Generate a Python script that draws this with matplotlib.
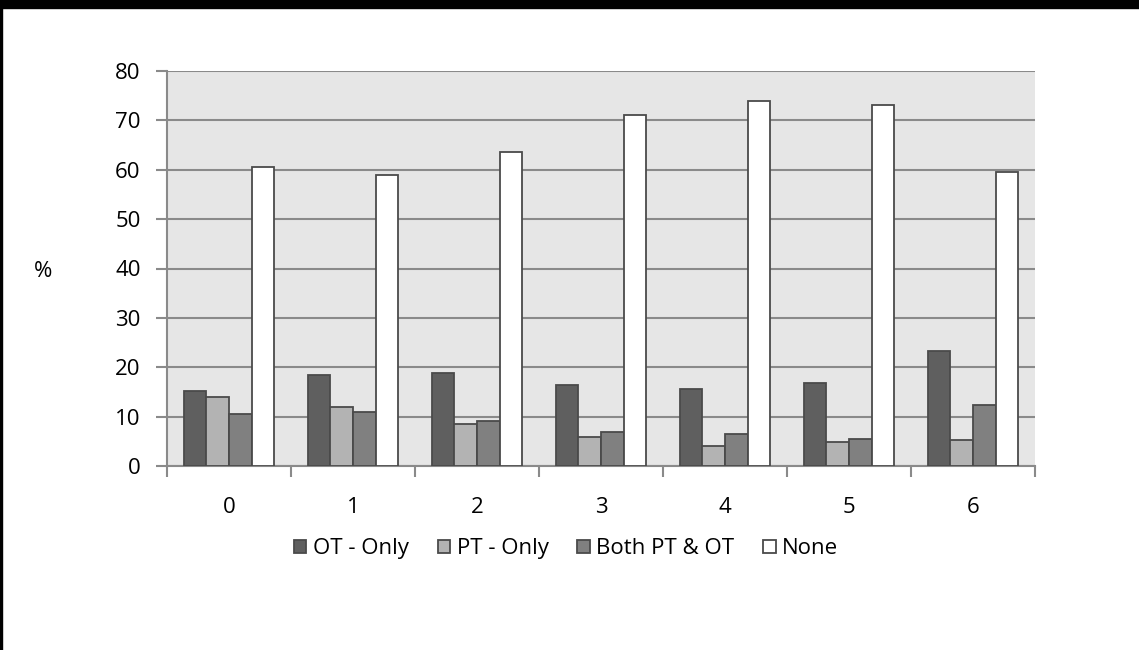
import numpy as np
import matplotlib.pyplot as plt
from matplotlib.patches import Rectangle

plt.rcParams['font.family'] = ['Open Sans', 'DejaVu Sans']

groups = ['0', '1', '2', '3', '4', '5', '6']
ot_only = [15.2, 18.5, 18.8, 16.5, 15.6, 16.9, 23.2]
pt_only = [13.9, 11.9, 8.6, 5.9, 4.0, 4.8, 5.3]
both = [10.5, 11.0, 9.2, 6.9, 6.5, 5.5, 12.4]
none = [60.6, 58.9, 63.6, 71.1, 73.9, 73.1, 59.5]

series = [('OT - Only', ot_only, '#5f5f5f'),
          ('PT - Only', pt_only, '#b3b3b3'),
          ('Both PT & OT', both, '#808080'),
          ('None', none, '#ffffff')]

fs = 16

fig = plt.figure(figsize=(11.39, 6.5), dpi=100)
# black frame along top and left edges
fig.patches.append(Rectangle((0, 1 - 8/650), 1, 8/650, transform=fig.transFigure,
                             color='black', zorder=10))
fig.patches.append(Rectangle((0, 0), 2/1139, 1, transform=fig.transFigure,
                             color='black', zorder=10))

ax = fig.add_axes([167/1139, 1 - 466/650, 868/1139, 395/650])
ax.set_facecolor('#e6e6e6')

x = np.arange(len(groups))
w = 0.182
for i, (name, vals, col) in enumerate(series):
    ax.bar(x + (i - 1.5) * w, vals, w, color=col, edgecolor='#4a4a4a',
           linewidth=1.3, label=name, zorder=3)

ax.set_xlim(-0.5, len(groups) - 0.5)
ax.set_ylim(0, 80)
ax.set_yticks(range(0, 81, 10))
ax.yaxis.grid(True, color='#8a8a8a', linewidth=1.5, zorder=0)
ax.set_axisbelow(True)

ax.set_xticks(x)
ax.set_xticklabels(groups)
ax.set_xticks(np.arange(-0.5, len(groups)), minor=True)
ax.tick_params(axis='x', which='major', length=0, pad=22, labelsize=fs)
ax.tick_params(axis='x', which='minor', length=8, width=1.5, color='#8a8a8a')
ax.tick_params(axis='y', length=8, width=1.5, color='#8a8a8a', pad=11, labelsize=fs)

for s in ['top', 'right']:
    ax.spines[s].set_visible(False)
for s in ['left', 'bottom']:
    ax.spines[s].set_color('#8a8a8a')
    ax.spines[s].set_linewidth(1.5)

ax.set_ylabel('%', rotation=0, fontsize=fs, labelpad=0)
ax.yaxis.set_label_coords(-0.143, 0.465)

ax.legend(loc='center', bbox_to_anchor=(0.46, -0.21), ncol=4, frameon=False,
          fontsize=fs, handlelength=0.55, handleheight=0.55, handletextpad=0.3,
          columnspacing=1.3)

fig.savefig('out.png', dpi=100, facecolor='white')
